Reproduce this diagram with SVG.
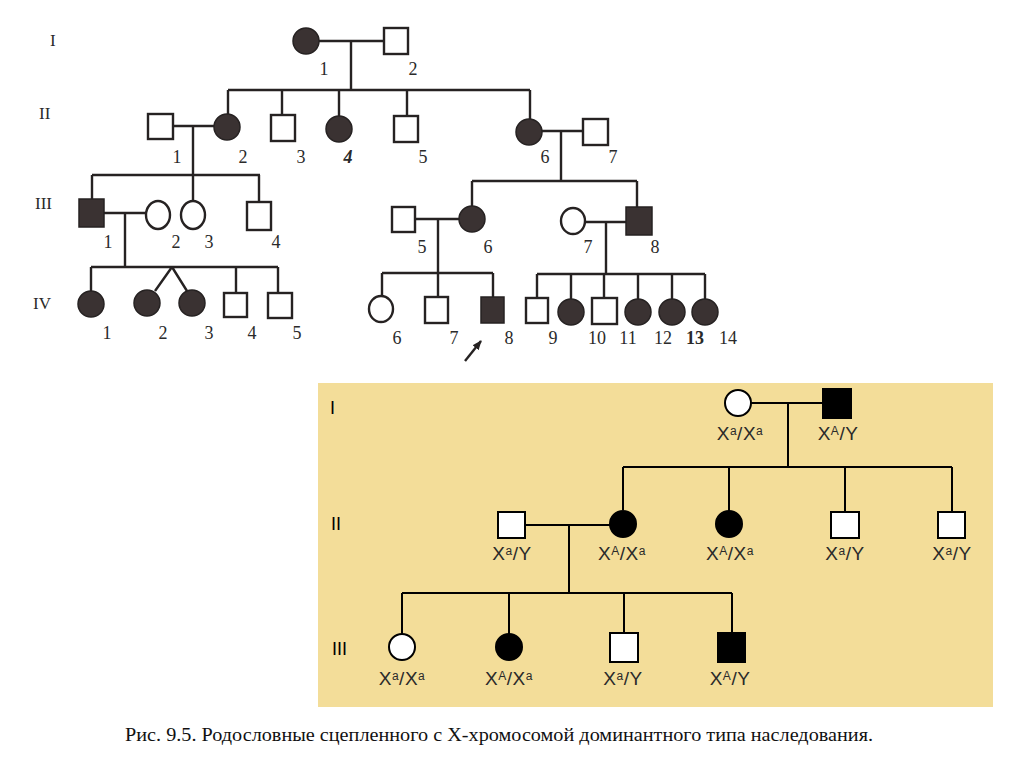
<svg xmlns="http://www.w3.org/2000/svg" width="1024" height="767" viewBox="0 0 1024 767">
<defs>
<style>
.ln{stroke:#262222;stroke-width:2.4;fill:none}
.op{fill:#fff;stroke:#262222;stroke-width:2.4}
.af{fill:#3a3232;stroke:#262222;stroke-width:1.5}
.num{font-family:"Liberation Serif",serif;font-size:18px;fill:#2a2a2a;text-anchor:middle}
.gen{font-family:"Liberation Serif",serif;font-size:17px;fill:#2a2a2a}
.bl{stroke:#000;stroke-width:2;fill:none}
.bo{fill:#fff;stroke:#000;stroke-width:2}
.bf{fill:#000;stroke:#000;stroke-width:2}
.gt{font-family:"Liberation Sans",Arial,sans-serif;font-size:19px;fill:#2a2a2a;text-anchor:middle;letter-spacing:0.5px}
.sup{font-size:12px}
.bg{font-family:"Liberation Sans",Arial,sans-serif;font-size:18px;fill:#000}
</style>
<marker id="ah" viewBox="0 0 10 10" refX="9" refY="5" markerWidth="4" markerHeight="4" orient="auto">
<path d="M0,1 L10,5 L0,9 Z" fill="#262222"/>
</marker>
</defs>
<rect width="1024" height="767" fill="#fff"/>

<!-- Top pedigree -->
<g id="top-gen-labels" class="gen">
<text x="50" y="46">I</text>
<text x="39" y="119">II</text>
<text x="35" y="209">III</text>
<text x="33" y="309">IV</text>
</g>

<g id="top-connectors">
<path class="ln" d="M319,41 H384 M351,41 V90 M228,90 H530 M228,90 V114 M282,90 V115 M339,90 V116 M407,90 V116 M530,90 V119"/>
<path class="ln" d="M173,126 H214 M193,126 V175 M92,175 H260 M92,175 V199 M193,175 V201 M259,175 V202"/>
<path class="ln" d="M541,131 H583 M561,131 V181 M472,181 H637 M472,181 V206 M637,181 V207"/>
<path class="ln" d="M104,213 H146 M125,213 V267 M91,267 H278 M91,267 V291 M172,267 L155,291 M172,267 L187,291 M236,267 V293 M278,267 V293"/>
<path class="ln" d="M415,219 H459 M438,219 V273 M382,273 H493 M382,273 V296 M438,273 V297 M493,273 V297"/>
<path class="ln" d="M586,222 H626 M606,222 V274 M537,274 H705 M537,274 V298 M571,274 V299 M604,274 V298 M638,274 V299 M672,274 V299 M705,274 V299"/>
<path class="ln" d="M465,361 L481,341" marker-end="url(#ah)" stroke-width="2"/>
</g>

<g id="t-I-1"><circle class="af" cx="306" cy="41" r="13"/><text class="num" x="324" y="75">1</text></g>
<g id="t-I-2"><rect class="op" x="384" y="28" width="24" height="26"/><text class="num" x="413" y="75">2</text></g>

<g id="t-II-1"><rect class="op" x="148" y="114" width="25" height="25"/><text class="num" x="177" y="163">1</text></g>
<g id="t-II-2"><circle class="af" cx="227" cy="127" r="13"/><text class="num" x="243" y="163">2</text></g>
<g id="t-II-3"><rect class="op" x="271" y="115" width="24" height="26"/><text class="num" x="301" y="163">3</text></g>
<g id="t-II-4"><circle class="af" cx="339" cy="129" r="13"/><text class="num" x="348" y="163" font-style="italic" font-weight="bold">4</text></g>
<g id="t-II-5"><rect class="op" x="394" y="116" width="24" height="26"/><text class="num" x="423" y="163">5</text></g>
<g id="t-II-6"><circle class="af" cx="529" cy="132" r="13"/><text class="num" x="545" y="163">6</text></g>
<g id="t-II-7"><rect class="op" x="583" y="119" width="25" height="26"/><text class="num" x="613" y="163">7</text></g>

<g id="t-III-1"><rect class="af" x="79" y="199" width="25" height="28"/><text class="num" x="108" y="248">1</text></g>
<g id="t-III-2"><ellipse class="op" cx="158" cy="215" rx="12" ry="14"/><text class="num" x="176" y="248">2</text></g>
<g id="t-III-3"><ellipse class="op" cx="193" cy="215" rx="12" ry="14"/><text class="num" x="209" y="248">3</text></g>
<g id="t-III-4"><rect class="op" x="247" y="202" width="24" height="28"/><text class="num" x="276" y="248">4</text></g>
<g id="t-III-5"><rect class="op" x="392" y="207" width="23" height="25"/><text class="num" x="422" y="253">5</text></g>
<g id="t-III-6"><circle class="af" cx="472" cy="219" r="13"/><text class="num" x="488" y="253">6</text></g>
<g id="t-III-7"><ellipse class="op" cx="573" cy="221" rx="12" ry="13"/><text class="num" x="588" y="253">7</text></g>
<g id="t-III-8"><rect class="af" x="626" y="207" width="26" height="28"/><text class="num" x="655" y="253">8</text></g>

<g id="t-IV-1"><circle class="af" cx="91" cy="304" r="13"/><text class="num" x="107" y="339">1</text></g>
<g id="t-IV-2"><circle class="af" cx="147" cy="303" r="13"/><text class="num" x="163" y="339">2</text></g>
<g id="t-IV-3"><circle class="af" cx="192" cy="303" r="13"/><text class="num" x="209" y="339">3</text></g>
<g id="t-IV-4"><rect class="op" x="224" y="293" width="23" height="24"/><text class="num" x="252" y="339">4</text></g>
<g id="t-IV-5"><rect class="op" x="268" y="293" width="24" height="25"/><text class="num" x="297" y="339">5</text></g>
<g id="t-IV-6"><ellipse class="op" cx="381" cy="309" rx="12" ry="13"/><text class="num" x="397" y="344">6</text></g>
<g id="t-IV-7"><rect class="op" x="425" y="297" width="23" height="26"/><text class="num" x="454" y="344">7</text></g>
<g id="t-IV-8"><rect class="af" x="481" y="297" width="23" height="26"/><text class="num" x="509" y="344">8</text></g>
<g id="t-IV-9"><rect class="op" x="526" y="298" width="22" height="25"/><text class="num" x="553" y="344">9</text></g>
<g id="t-IV-10a"><circle class="af" cx="571" cy="312" r="13"/></g>
<g id="t-IV-10"><rect class="op" x="592" y="298" width="25" height="26"/><text class="num" x="597" y="344">10</text></g>
<g id="t-IV-11"><circle class="af" cx="638" cy="312" r="13"/><text class="num" x="628" y="344">11</text></g>
<g id="t-IV-12"><circle class="af" cx="672" cy="312" r="13"/><text class="num" x="663" y="344">12</text></g>
<g id="t-IV-13"><circle class="af" cx="705" cy="312" r="13"/><text class="num" x="695" y="344" font-weight="bold">13</text><text class="num" x="728" y="344">14</text></g>

<!-- Bottom panel -->
<rect id="panel" x="318" y="383" width="675" height="324" fill="#f3dd99"/>
<g id="bottom-gen-labels" class="bg">
<text x="330" y="414">I</text>
<text x="331" y="530">II</text>
<text x="332" y="655">III</text>
</g>

<g id="bottom-connectors">
<path class="bl" d="M751,403 H823 M788,403 V467 M623,467 H952 M623,467 V510 M729,467 V511 M845,467 V512 M952,467 V512"/>
<path class="bl" d="M525,525 H610 M569,525 V593 M402,593 H732 M402,593 V634 M509,593 V634 M624,593 V633 M732,593 V633"/>
</g>

<g id="b-I-1"><circle class="bo" cx="738" cy="403" r="13"/><text class="gt" x="740" y="440">X<tspan class="sup" dy="-5">a</tspan><tspan dy="5">/X</tspan><tspan class="sup" dy="-5">a</tspan></text></g>
<g id="b-I-2"><rect class="bf" x="823" y="389" width="28" height="29"/><text class="gt" x="838" y="440">X<tspan class="sup" dy="-5">A</tspan><tspan dy="5">/Y</tspan></text></g>

<g id="b-II-1"><rect class="bo" x="498" y="512" width="27" height="26"/><text class="gt" x="512" y="560">X<tspan class="sup" dy="-5">a</tspan><tspan dy="5">/Y</tspan></text></g>
<g id="b-II-2"><circle class="bf" cx="623" cy="524" r="13"/><text class="gt" x="622" y="560">X<tspan class="sup" dy="-5">A</tspan><tspan dy="5">/X</tspan><tspan class="sup" dy="-5">a</tspan></text></g>
<g id="b-II-3"><circle class="bf" cx="729" cy="524" r="13"/><text class="gt" x="730" y="560">X<tspan class="sup" dy="-5">A</tspan><tspan dy="5">/X</tspan><tspan class="sup" dy="-5">a</tspan></text></g>
<g id="b-II-4"><rect class="bo" x="831" y="512" width="28" height="26"/><text class="gt" x="845" y="560">X<tspan class="sup" dy="-5">a</tspan><tspan dy="5">/Y</tspan></text></g>
<g id="b-II-5"><rect class="bo" x="938" y="512" width="27" height="26"/><text class="gt" x="952" y="560">X<tspan class="sup" dy="-5">a</tspan><tspan dy="5">/Y</tspan></text></g>

<g id="b-III-1"><circle class="bo" cx="402" cy="647" r="13"/><text class="gt" x="402" y="685">X<tspan class="sup" dy="-5">a</tspan><tspan dy="5">/X</tspan><tspan class="sup" dy="-5">a</tspan></text></g>
<g id="b-III-2"><circle class="bf" cx="509" cy="647" r="13"/><text class="gt" x="509" y="685">X<tspan class="sup" dy="-5">A</tspan><tspan dy="5">/X</tspan><tspan class="sup" dy="-5">a</tspan></text></g>
<g id="b-III-3"><rect class="bo" x="610" y="633" width="28" height="29"/><text class="gt" x="623" y="685">X<tspan class="sup" dy="-5">a</tspan><tspan dy="5">/Y</tspan></text></g>
<g id="b-III-4"><rect class="bf" x="718" y="633" width="27" height="29"/><text class="gt" x="730" y="685">X<tspan class="sup" dy="-5">A</tspan><tspan dy="5">/Y</tspan></text></g>

<text id="caption" x="125" y="741" font-family="'Liberation Serif', serif" font-size="18" fill="#111" textLength="748" lengthAdjust="spacingAndGlyphs">Рис. 9.5. Родословные сцепленного с Х-хромосомой доминантного типа наследования.</text>
</svg>
